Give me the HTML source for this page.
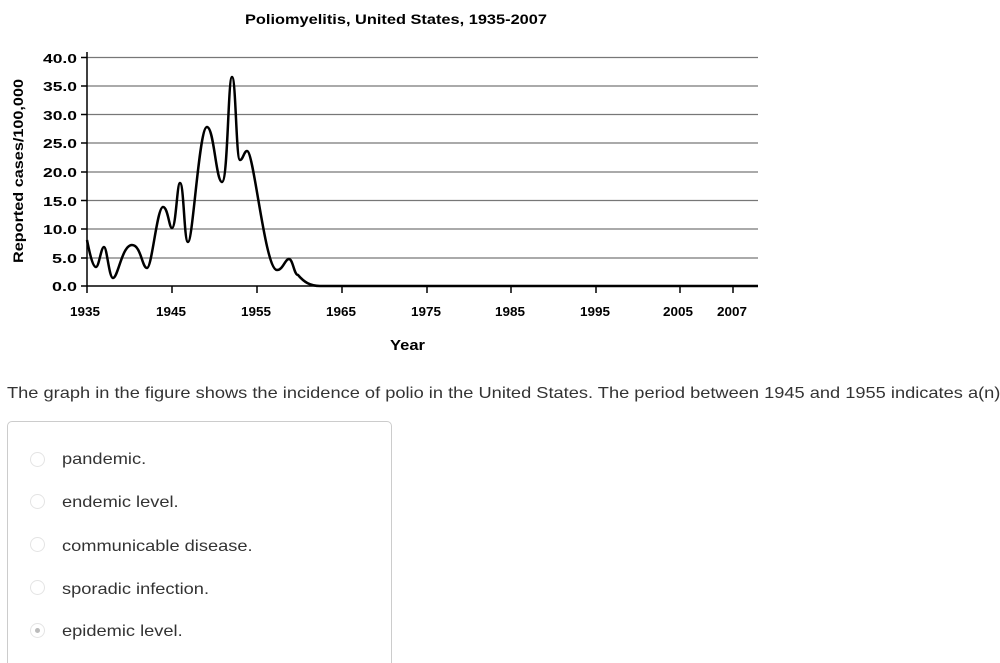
<!DOCTYPE html>
<html><head><style>
html,body{margin:0;width:1000px;height:663px;overflow:hidden}
body{background:#fff;font-family:"Liberation Sans",sans-serif;position:relative}
.q{position:absolute;left:7px;top:385px;font-size:16px;color:#333;white-space:nowrap;transform:scaleX(1.14);transform-origin:0 0}
.box{position:absolute;left:7px;top:421px;width:383px;height:260px;border:1px solid #ccc;border-radius:5px}
.opt{position:absolute;left:62px;font-size:16px;color:#333;white-space:nowrap;transform:scaleX(1.14);transform-origin:0 0}
.r{position:absolute;left:30px;width:15px;height:15px;border-radius:50%;border:1px solid #e4e4e4;box-sizing:border-box}
</style></head><body>
<svg width="1000" height="370" style="position:absolute;left:0;top:0" font-family="Liberation Sans" font-weight="bold">
<text x="245" y="24" font-size="14" textLength="302" lengthAdjust="spacingAndGlyphs">Poliomyelitis, United States, 1935-2007</text>
<g stroke="#777" stroke-width="1.3">
<line x1="87" y1="57.5" x2="758" y2="57.5"/><line x1="87" y1="86" x2="758" y2="86"/><line x1="87" y1="114.5" x2="758" y2="114.5"/><line x1="87" y1="143" x2="758" y2="143"/><line x1="87" y1="172" x2="758" y2="172"/><line x1="87" y1="200.5" x2="758" y2="200.5"/><line x1="87" y1="229" x2="758" y2="229"/><line x1="87" y1="258" x2="758" y2="258"/>
</g>
<g stroke="#000" stroke-width="1.5">
<line x1="87" y1="52" x2="87" y2="286"/><line x1="87" y1="286" x2="758" y2="286"/>
<line x1="81" y1="57.5" x2="87" y2="57.5"/><line x1="81" y1="86" x2="87" y2="86"/><line x1="81" y1="114.5" x2="87" y2="114.5"/><line x1="81" y1="143" x2="87" y2="143"/><line x1="81" y1="172" x2="87" y2="172"/><line x1="81" y1="200.5" x2="87" y2="200.5"/><line x1="81" y1="229" x2="87" y2="229"/><line x1="81" y1="258" x2="87" y2="258"/><line x1="81" y1="286" x2="87" y2="286"/>
<line x1="87" y1="286" x2="87" y2="293"/><line x1="172" y1="286" x2="172" y2="293"/><line x1="257" y1="286" x2="257" y2="293"/><line x1="342" y1="286" x2="342" y2="293"/><line x1="427" y1="286" x2="427" y2="293"/><line x1="511" y1="286" x2="511" y2="293"/><line x1="596" y1="286" x2="596" y2="293"/><line x1="680" y1="286" x2="680" y2="293"/><line x1="733" y1="286" x2="733" y2="293"/>
</g>
<g font-size="13">
<text x="43" y="63" textLength="34" lengthAdjust="spacingAndGlyphs">40.0</text><text x="43" y="91" textLength="34" lengthAdjust="spacingAndGlyphs">35.0</text><text x="43" y="120" textLength="34" lengthAdjust="spacingAndGlyphs">30.0</text><text x="43" y="148" textLength="34" lengthAdjust="spacingAndGlyphs">25.0</text><text x="43" y="177" textLength="34" lengthAdjust="spacingAndGlyphs">20.0</text><text x="43" y="206" textLength="34" lengthAdjust="spacingAndGlyphs">15.0</text><text x="43" y="234" textLength="34" lengthAdjust="spacingAndGlyphs">10.0</text><text x="52" y="263" textLength="25" lengthAdjust="spacingAndGlyphs">5.0</text><text x="52" y="291" textLength="25" lengthAdjust="spacingAndGlyphs">0.0</text>
</g>
<g font-size="13">
<text x="70" y="316" textLength="30" lengthAdjust="spacingAndGlyphs">1935</text><text x="156" y="316" textLength="30" lengthAdjust="spacingAndGlyphs">1945</text><text x="241" y="316" textLength="30" lengthAdjust="spacingAndGlyphs">1955</text><text x="326" y="316" textLength="30" lengthAdjust="spacingAndGlyphs">1965</text><text x="411" y="316" textLength="30" lengthAdjust="spacingAndGlyphs">1975</text><text x="495" y="316" textLength="30" lengthAdjust="spacingAndGlyphs">1985</text><text x="580" y="316" textLength="30" lengthAdjust="spacingAndGlyphs">1995</text><text x="663" y="316" textLength="30" lengthAdjust="spacingAndGlyphs">2005</text><text x="717" y="316" textLength="30" lengthAdjust="spacingAndGlyphs">2007</text>
</g>
<text x="390" y="350" font-size="15" textLength="35" lengthAdjust="spacingAndGlyphs">Year</text>
<text transform="translate(23,263) rotate(-90)" font-size="14" textLength="184" lengthAdjust="spacingAndGlyphs">Reported cases/100,000</text>
<path fill="none" stroke="#000" stroke-width="2.5" d="M87,240 C90,255 93,267 96,267 C99,267 101,247 104,247 C107,247 109,278 113,278 C118,278 122,245 132,245 C141,245 142,268 147,268 C152,268 157,207 163,207 C168,207 169,228 172,228 C176,228 177,183 180,183 C184,183 184,242 188,242 C193,242 199,127 207,127 C214,127 216,182 222,182 C228,182 228,77 232,77 C236,77 236,160 240,160 C243,160 244,151 247,151 C254,151 265,270 277,270 C283,270 285,259 289,259 C293,259 294,275 298,275 C304,282 310,286 320,286 L758,286"/>
</svg>
<div class="q">The graph in the figure shows the incidence of polio in the United States. The period between 1945 and 1955 indicates a(n)</div>
<div class="box"></div>
<div class="r" style="top:452px"></div><div class="opt" style="top:451px">pandemic.</div>
<div class="r" style="top:494px"></div><div class="opt" style="top:494px">endemic level.</div>
<div class="r" style="top:537px"></div><div class="opt" style="top:538px">communicable disease.</div>
<div class="r" style="top:580px"></div><div class="opt" style="top:581px">sporadic infection.</div>
<div class="r" style="top:623px"><div style="position:absolute;left:4px;top:4px;width:5px;height:5px;border-radius:50%;background:#bbb"></div></div><div class="opt" style="top:623px">epidemic level.</div>
</body></html>
